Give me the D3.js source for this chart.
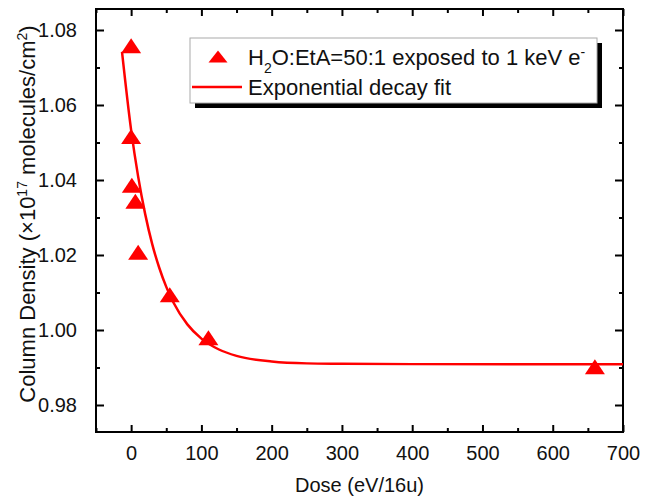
<!DOCTYPE html>
<meta charset="utf-8">
<style>
  body { margin: 0; background: #fff; }
  text { font-family: "Liberation Sans", Arial, sans-serif; fill: #111; }
  .tick text { font-size: 20px; }
  .title { font-size: 20px; }
  .ytitle { font-size: 22px; }
  .legend text { font-size: 22px; }
</style>
<body>
<svg width="665" height="500"></svg>
<script src="https://d3js.org/d3.v7.min.js"></script>
<script>

var dose = [0, 0, 1, 6, 10, 55, 110, 660];
var density = [1.0757, 1.0515, 1.0385, 1.0342, 1.0206, 1.0093, 0.9978, 0.9901];

// exponential decay fit, sampled off the plotted curve
var fitDose = [-13, 0, 10, 20, 30, 40, 50, 60, 80, 100, 125, 150, 200, 250, 300, 400, 700];
var fitDensity = [1.0742, 1.0533, 1.0409, 1.0309, 1.0229, 1.0166, 1.0115, 1.0074, 1.0015,
                  0.9977, 0.9948, 0.9931, 0.9916, 0.9911, 0.9910, 0.9909, 0.9909];

var xTicks = [0, 100, 200, 300, 400, 500, 600, 700];
var yTicks = [0.98, 1.00, 1.02, 1.04, 1.06, 1.08];

var svg = d3.select("svg");
var pl = 96, pr = 623, pt = 9, pb = 432;

var x = d3.scaleLinear().domain([-50, 700]).range([pl, pr]);
var y = d3.scaleLinear().domain([0.9728, 1.0856]).range([pb, pt]);

var xMinor = d3.range(-50, 701, 50);
var yMinor = d3.range(0.97, 1.0856, 0.01).filter(function(d) { return d > 0.9728; });

function styleAxis(g) {
  g.select(".domain").remove();
  g.selectAll("line").attr("stroke", "#000").attr("stroke-width", 2);
}

// major ticks + labels (inward)
svg.append("g").attr("transform", "translate(0," + pb + ")")
  .call(d3.axisBottom(x).tickValues(xTicks).tickSize(-7).tickPadding(14).tickFormat(d3.format("d")))
  .call(styleAxis);
svg.append("g").attr("transform", "translate(" + pl + ",0)")
  .call(d3.axisLeft(y).tickValues(yTicks).tickSize(-8).tickPadding(19).tickFormat(d3.format(".2f")))
  .call(styleAxis);
svg.append("g").attr("transform", "translate(0," + pt + ")")
  .call(d3.axisTop(x).tickValues(xTicks).tickSize(-7).tickFormat(""))
  .call(styleAxis);
svg.append("g").attr("transform", "translate(" + pr + ",0)")
  .call(d3.axisRight(y).tickValues(yTicks).tickSize(-8).tickFormat(""))
  .call(styleAxis);

// minor ticks
[[d3.axisBottom(x), pb, xMinor, true], [d3.axisTop(x), pt, xMinor, true],
 [d3.axisLeft(y), pl, yMinor, false], [d3.axisRight(y), pr, yMinor, false]].forEach(function(a) {
  var minors = a[2].filter(function(v) {
    return a[3] ? xTicks.indexOf(v) < 0 : yTicks.every(function(t) { return Math.abs(t - v) > 1e-6; });
  });
  svg.append("g")
    .attr("transform", a[3] ? "translate(0," + a[1] + ")" : "translate(" + a[1] + ",0)")
    .call(a[0].tickValues(minors).tickSize(-4).tickFormat(""))
    .call(styleAxis);
});

// frame
svg.append("rect")
  .attr("x", pl).attr("y", pt)
  .attr("width", pr - pl).attr("height", pb - pt)
  .attr("fill", "none").attr("stroke", "#000").attr("stroke-width", 2);

// fit line
var line = d3.line()
  .x(function(d, i) { return x(fitDose[i]); })
  .y(function(d) { return y(d); })
  .curve(d3.curveMonotoneX);
svg.append("path")
  .attr("d", line(fitDensity))
  .attr("fill", "none").attr("stroke", "#ff0000").attr("stroke-width", 2.5);

// slightly flattened triangle like the original markers
var flatTriangle = {
  draw: function(ctx) {
    ctx.moveTo(0, -8);
    ctx.lineTo(10, 7);
    ctx.lineTo(-10, 7);
    ctx.closePath();
  }
};
var tri = d3.symbol().type(flatTriangle);
svg.append("g").selectAll("path")
  .data(density)
  .enter().append("path")
    .attr("d", tri)
    .attr("fill", "#ff0000")
    .attr("transform", function(d, i) { return "translate(" + x(dose[i]) + "," + y(d) + ")"; });

// axis titles
svg.append("text").attr("class", "title")
  .attr("x", (pl + pr) / 2).attr("y", 492)
  .attr("text-anchor", "middle")
  .text("Dose (eV/16u)");

var yt = svg.append("text").attr("class", "ytitle")
  .attr("transform", "translate(35,214) rotate(-90)")
  .attr("text-anchor", "middle");
yt.append("tspan").text("Column Density (\u00d710");
yt.append("tspan").attr("baseline-shift", "super").attr("font-size", "14px").text("17");
yt.append("tspan").text(" molecules/cm");
yt.append("tspan").attr("baseline-shift", "super").attr("font-size", "14px").text("2");
yt.append("tspan").text(")");

// legend
var lg = svg.append("g").attr("class", "legend");
lg.append("rect").attr("x", 195).attr("y", 43).attr("width", 407).attr("height", 65).attr("fill", "#000");
lg.append("rect").attr("x", 190).attr("y", 38).attr("width", 407).attr("height", 65)
  .attr("fill", "#fff").attr("stroke", "#aaa").attr("stroke-width", 1);
lg.append("path").attr("d", tri).attr("fill", "#ff0000").attr("transform", "translate(218,57) scale(0.95,0.8)");
var t1 = lg.append("text").attr("x", 248).attr("y", 65);
t1.append("tspan").text("H");
t1.append("tspan").attr("baseline-shift", "sub").attr("font-size", "14px").text("2");
t1.append("tspan").text("O:EtA=50:1 exposed to 1 keV e");
t1.append("tspan").attr("baseline-shift", "super").attr("font-size", "14px").text("-");
lg.append("line").attr("x1", 192).attr("x2", 242).attr("y1", 87).attr("y2", 87)
  .attr("stroke", "#ff0000").attr("stroke-width", 2.5);
lg.append("text").attr("x", 248).attr("y", 95).text("Exponential decay fit");

</script>
</body>
